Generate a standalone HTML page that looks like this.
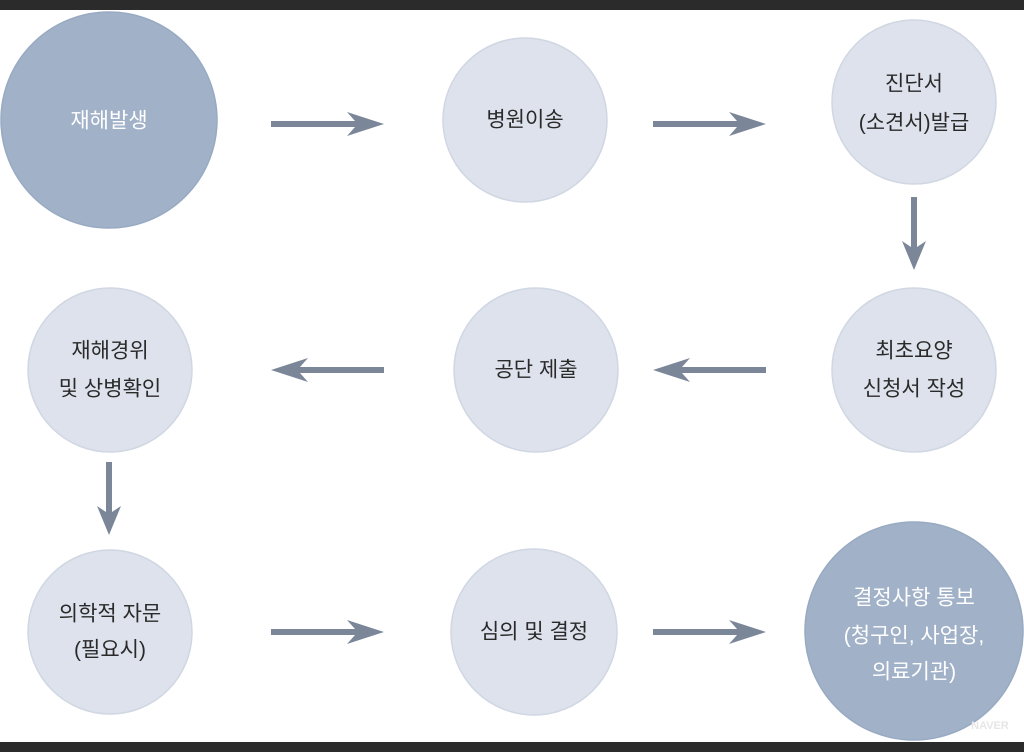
<!DOCTYPE html>
<html><head><meta charset="utf-8"><style>
html,body{margin:0;padding:0;background:#fff;width:1024px;height:752px;overflow:hidden}
svg{display:block}
text{font-family:"Liberation Sans","Noto Sans CJK KR","NanumGothic",sans-serif;font-size:21px;text-anchor:middle;dominant-baseline:central}
.l{fill:#dde2ec;stroke:#d0d7e3;stroke-width:1.5}
.d{fill:#a0b1c8;stroke:#98aac2;stroke-width:1.5}
.t{fill:#2a2a2a}
.w{fill:#fff}
.a{fill:#7b8799}
</style></head><body>
<svg width="1024" height="752" viewBox="0 0 1024 752">
<defs>
<path id="ar" d="M0,-3 L84,-3 L76,-12 L113,0 L76,12 L84,3 L0,3 Z"/>
<path id="av" d="M-3,0 L-3,50 L-12,44 L0,73 L12,44 L3,50 L3,0 Z"/>
</defs>
<rect x="0" y="0" width="1024" height="10" fill="#2b2b2b"/>
<rect x="0" y="742" width="1024" height="10" fill="#2b2b2b"/>

<circle class="d" cx="109" cy="120" r="108"/>
<text class="w" x="109" y="121">재해발생</text>

<circle class="l" cx="525" cy="120" r="82"/>
<text class="t" x="525" y="120">병원이송</text>

<circle class="l" cx="914" cy="102" r="82"/>
<text class="t" x="914" y="84">진단서</text>
<text class="t" x="914" y="123">(소견서)발급</text>

<circle class="l" cx="914" cy="370" r="82"/>
<text class="t" x="914" y="351">최초요양</text>
<text class="t" x="914" y="389">신청서 작성</text>

<circle class="l" cx="536" cy="370" r="82"/>
<text class="t" x="536" y="370">공단 제출</text>

<circle class="l" cx="110" cy="370" r="82"/>
<text class="t" x="110" y="351">재해경위</text>
<text class="t" x="110" y="389">및 상병확인</text>

<circle class="l" cx="110" cy="632" r="82"/>
<text class="t" x="110" y="614">의학적 자문</text>
<text class="t" x="110" y="650">(필요시)</text>

<circle class="l" cx="534" cy="632" r="83"/>
<text class="t" x="534" y="632">심의 및 결정</text>

<circle class="d" cx="914" cy="631" r="109"/>
<text class="w" x="914" y="598">결정사항 통보</text>
<text class="w" x="914" y="636">(청구인, 사업장,</text>
<text class="w" x="914" y="672">의료기관)</text>

<use href="#ar" class="a" transform="translate(271,124)"/>
<use href="#ar" class="a" transform="translate(653,124)"/>
<use href="#ar" class="a" transform="translate(384,370) rotate(180)"/>
<use href="#ar" class="a" transform="translate(766,370) rotate(180)"/>
<use href="#ar" class="a" transform="translate(271,632)"/>
<use href="#ar" class="a" transform="translate(653,632)"/>
<use href="#av" class="a" transform="translate(914,197)"/>
<use href="#av" class="a" transform="translate(109,462)"/>
<text x="990" y="726" style="font-size:11px;font-weight:bold;fill:#e6e6e6">NAVER</text>
</svg>
</body></html>
